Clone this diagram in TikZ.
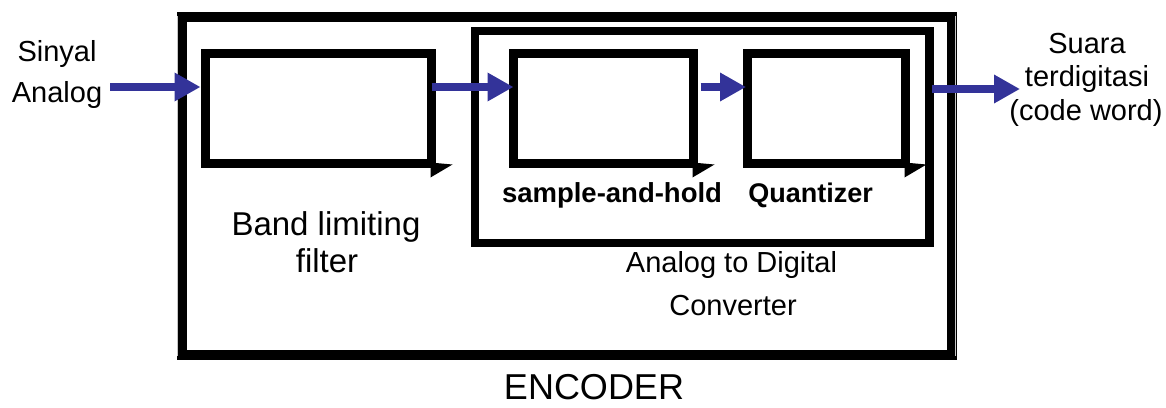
\documentclass[tikz,border=0pt]{standalone}
\usepackage{fontspec}
\setmainfont{Liberation Sans}
\usetikzlibrary{arrows.meta,calc}
\definecolor{arrblue}{RGB}{51,51,153}
\begin{document}
\begin{tikzpicture}[x=1pt,y=-1pt,
  blk/.style={draw=black,line width=9pt,inner sep=0pt,rectangle,fill=none},
  notch/.style={fill=black,draw=none},
  arr/.style={draw=arrblue,line width=8pt,-{Triangle[length=26pt,width=27pt]}},
  lbl/.style={anchor=base,inner sep=0pt},
  side/.style={lbl,font=\fontsize{29}{35}\selectfont},
  inlbl/.style={lbl,font=\fontsize{28}{34}\selectfont\bfseries},
  stripe/.style={draw=gray!45,line width=1.2pt}]
\useasboundingbox (0,0) rectangle (1166,407);
% boxes
\node[blk,line width=10pt,minimum width=769.5pt,minimum height=338pt] (enc) at (566.75,186) {};
\node[blk,line width=8.5pt,minimum width=454.5pt,minimum height=212pt] (adc) at (702.25,137) {};
\node[blk,minimum width=226pt,minimum height=110pt] (filt) at (318,108) {};
\node[blk,minimum width=180pt,minimum height=110pt] (samp) at (603,108) {};
\node[blk,minimum width=157.5pt,minimum height=110pt] (quant) at (826.25,108) {};
% light stripes in the outer frame
\draw[stripe] ($(enc.north west)+(0.5,4)$) -- ($(enc.south west)+(0.5,-4)$);
\draw[stripe] ($(enc.north east)+(-1,4)$) -- ($(enc.south east)+(-1,-4)$);
% notches
\foreach \b in {filt,samp,quant}{
  \fill[notch] ($(\b.south east)+(-5,-5)$) -- ($(\b.south east)+(17,-3)$) -- ($(\b.south east)+(-5,10)$) -- cycle;
}
% arrows
\coordinate (ay) at (0,87);
\coordinate (in) at (110,87);
\coordinate (out) at (1020,89);
\draw[arr] (in) -- (filt.west |- ay);
\draw[arr] ($(filt.east |- ay)+(-4,0)$) -- ($(samp.west |- ay)+(5,0)$);
\draw[arr] ($(samp.east |- ay)+(3,0)$) -- ($(quant.west |- ay)+(3,0)$);
\draw[arr] ($(adc.east |- out)+(-2,0)$) -- (out);
% labels
\node[side] (sin1) at (57,61) {Sinyal};
\node[side] (sin2) at (57,102) {Analog};
\node[lbl,font=\fontsize{33}{38}\selectfont] (blf1) at (326,235) {Band limiting};
\node[lbl,font=\fontsize{33}{38}\selectfont] (blf2) at (327,272) {filter};
\node[inlbl,font=\fontsize{27.5}{33}\selectfont\bfseries] (sah) at (612,202) {sample-and-hold};
\node[inlbl,font=\fontsize{27}{33}\selectfont\bfseries] (qz) at (810.5,202) {Quantizer};
\node[side] (adc1) at (731.5,272) {Analog to Digital};
\node[side] (adc2) at (733,315) {Converter};
\node[lbl,font=\fontsize{36}{42}\selectfont] (encl) at (594,399) {ENCODER};
\node[side] (out1) at (1087,53) {Suara};
\node[side] (out2) at (1087,86.5) {terdigitasi};
\node[side] (out3) at (1086,120) {(code word)};
\end{tikzpicture}
\end{document}
